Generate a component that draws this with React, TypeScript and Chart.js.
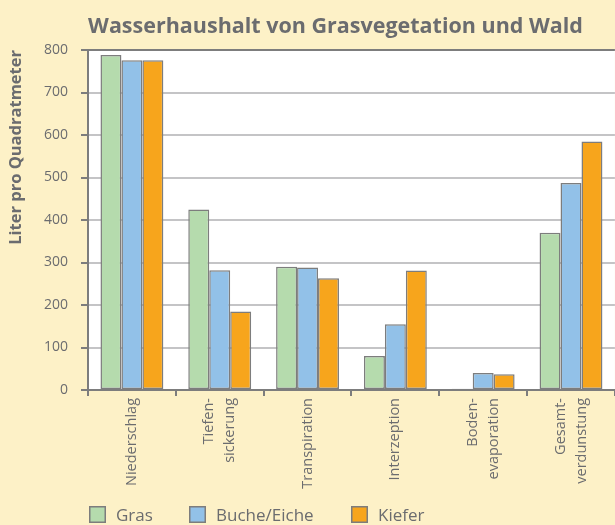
import React, { useEffect, useRef } from "react";
import { Chart, registerables } from "chart.js";

Chart.register(...registerables);

const categories: (string | string[])[] = [
  "Niederschlag",
  ["Tiefen-", "sickerung"],
  "Transpiration",
  "Interzeption",
  ["Boden-", "evaporation"],
  ["Gesamt-", "verdunstung"],
];
const grasValues = [788, 425, 290, 80, 3, 370];
const bucheValues = [776, 282, 288, 155, 40, 487];
const kieferValues = [776, 185, 263, 281, 37, 585];
const seriesNames = ["Gras", "Buche/Eiche", "Kiefer"];
const seriesColors = ["#b5dbad", "#92c1e8", "#f7a51c"];
const chartTitle = "Wasserhaushalt von Grasvegetation und Wald";
const yTitle = "Liter pro Quadratmeter";

const TEXT = "#6b6c6f";
const AXIS = "#7d7d7d";
const GRID = "#c4c4c6";
const BG = "#fdf1c7";
const FONT = "'Open Sans', sans-serif";
const X_FONT_SIZE = 14.5;
const X_LINE_HEIGHT = 21;

const bgPlugin = {
  id: "bgPlugin",
  beforeDraw(chart: any) {
    const { ctx, chartArea } = chart;
    ctx.save();
    ctx.fillStyle = BG;
    ctx.fillRect(0, 0, chart.width, chart.height);
    ctx.fillStyle = "#ffffff";
    ctx.fillRect(chartArea.left, chartArea.top, chartArea.right - chartArea.left, chartArea.bottom - chartArea.top);
    ctx.restore();
    // center multi-line rotated category labels on their category
    const xScale = chart.scales.x;
    const items = xScale.getLabelItems(chartArea);
    items.forEach((item: any) => {
      if (item._centered) return;
      const lines = Array.isArray(item.label) ? item.label.length : 1;
      if (lines > 1) {
        item.textOffset -= ((lines - 1) * X_LINE_HEIGHT) / 2;
      }
      item._centered = true;
    });
  },
  afterDraw(chart: any) {
    const { ctx } = chart;
    ctx.save();
    // title
    ctx.fillStyle = TEXT;
    ctx.font = `bold 21.5px ${FONT}`;
    ctx.textAlign = "center";
    ctx.textBaseline = "alphabetic";
    ctx.fillText(chartTitle, 335.5, 33);
    // legend
    const xs = [89, 189, 351];
    ctx.font = `17px ${FONT}`;
    ctx.textAlign = "left";
    ctx.textBaseline = "middle";
    chart.data.datasets.forEach((ds: any, i: number) => {
      const x = xs[i];
      const y = 506;
      ctx.fillStyle = ds.backgroundColor;
      ctx.fillRect(x, y, 17, 17);
      ctx.strokeStyle = AXIS;
      ctx.lineWidth = 1.5;
      ctx.strokeRect(x + 0.75, y + 0.75, 15.5, 15.5);
      ctx.fillStyle = TEXT;
      ctx.fillText(ds.label, x + 27, y + 10);
    });
    ctx.restore();
  },
};

export default function App() {
  const ref = useRef<HTMLCanvasElement | null>(null);
  useEffect(() => {
    document.body.style.margin = "0";
    const canvas = ref.current!;
    const values = [grasValues, bucheValues, kieferValues];
    const chart = new Chart(canvas, {
      type: "bar",
      data: {
        labels: categories,
        datasets: seriesNames.map((name, i) => ({
          label: name,
          data: values[i],
          backgroundColor: seriesColors[i],
          borderColor: AXIS,
          borderWidth: 1.5,
          borderSkipped: false,
          categoryPercentage: 0.716,
          barPercentage: 1,
        })),
      },
      options: {
        responsive: false,
        animation: false,
        layout: { padding: { top: 50, left: 0, right: 0, bottom: 0 } },
        plugins: {
          legend: { display: false },
          title: { display: false },
          tooltip: { enabled: false },
        },
        scales: {
          x: {
            afterFit(scale: any) {
              scale.height = 135;
            },
            grid: {
              offset: true,
              drawOnChartArea: false,
              tickLength: 6,
              color: AXIS,
              lineWidth: 2,
            },
            border: { color: AXIS, width: 2 },
            ticks: {
              minRotation: 90,
              maxRotation: 90,
              autoSkip: false,
              padding: 2,
              color: TEXT,
              font: { family: FONT, size: X_FONT_SIZE, lineHeight: X_LINE_HEIGHT / X_FONT_SIZE },
            },
          },
          y: {
            min: 0,
            max: 800,
            afterFit(scale: any) {
              scale.width = 88;
            },
            ticks: {
              stepSize: 100,
              padding: 13,
              color: TEXT,
              font: { family: FONT, size: 14 },
            },
            grid: {
              color: (c: any) => (c.tick && c.tick.value === 800 ? AXIS : GRID),
              lineWidth: 2,
              tickLength: 7,
              tickColor: AXIS,
            },
            border: { color: AXIS, width: 2 },
            title: {
              display: true,
              text: yTitle,
              align: "end",
              color: TEXT,
              font: { family: FONT, size: 16.5, weight: "bold" },
              padding: { top: 6, bottom: 0 },
            },
          },
        },
      },
      plugins: [bgPlugin],
    });
    return () => chart.destroy();
  }, []);
  return <canvas ref={ref} width={615} height={525} style={{ display: "block" }} />;
}
